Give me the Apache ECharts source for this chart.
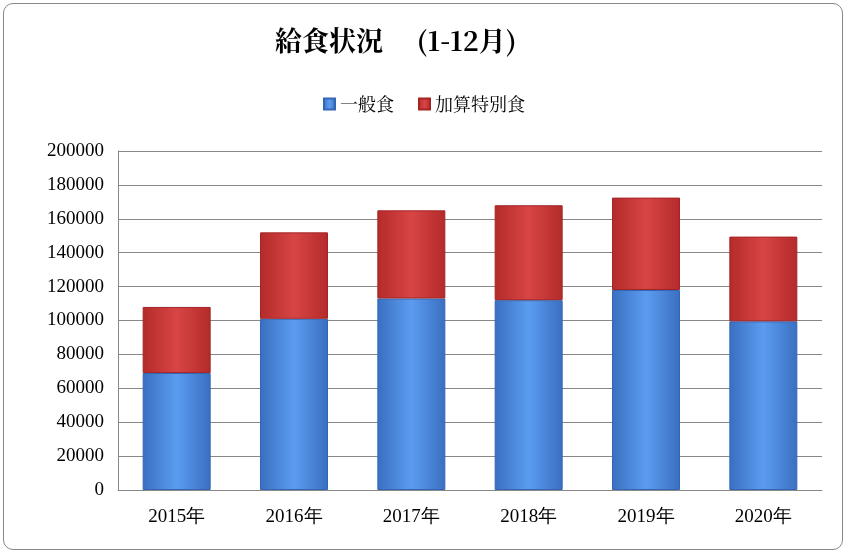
<!DOCTYPE html>
<html><head><meta charset="utf-8">
<script src="https://cdn.jsdelivr.net/npm/echarts@6/dist/echarts.min.js"></script>
<style>html,body{margin:0;padding:0;background:#fff}#c{width:848px;height:554px}
#f{position:absolute;left:3px;top:3px;width:838px;height:545px;border:1.5px solid #888;border-radius:10px;pointer-events:none}</style>
</head><body><div id="c"></div><div id="f"></div>
<script>
const categories = ['2015年','2016年','2017年','2018年','2019年','2020年'];
const general = [69000, 101000, 113000, 112000, 118000, 99500];
const special = [39000, 51000, 52000, 56000, 54500, 50000];
const F = '"Noto Serif CJK JP","Noto Sans CJK JP",serif';
function grad(a,b,c){return new echarts.graphic.LinearGradient(0,0,1,0,[{offset:0,color:a},{offset:0.5,color:b},{offset:1,color:c}]);}
const chart = echarts.init(document.getElementById('c'));
chart.setOption({
  animation:false,
  title:{text:'給食状況　 (1-12月)',left:270,top:22,textStyle:{fontFamily:F,fontSize:27,fontWeight:'bold',color:'#000'}},
  legend:{top:90,left:'center',itemWidth:11,itemHeight:11,icon:'rect',itemGap:24,
    textStyle:{fontFamily:F,fontSize:18,color:'#000'},data:['一般食','加算特別食']},
  grid:{left:118,right:26,top:151,bottom:64},
  xAxis:{type:'category',data:categories,axisTick:{show:false},
    axisLine:{lineStyle:{color:'#888'}},axisLabel:{fontFamily:'Liberation Serif',fontSize:19,color:'#000',margin:18}},
  yAxis:{type:'value',min:0,max:200000,interval:20000,
    axisLine:{show:true,lineStyle:{color:'#888'}},
    splitLine:{lineStyle:{color:'#888'}},
    axisLabel:{fontFamily:'Liberation Serif',fontSize:19,color:'#000',margin:14,formatter:v=>String(v)}},
  series:[
    {name:'一般食',type:'bar',stack:'a',data:general,barWidth:68,
     itemStyle:{color:grad('#3a6fc0','#5b9cf0','#3a6fc0'),borderColor:'#3566b5',borderWidth:1}},
    {name:'加算特別食',type:'bar',stack:'a',data:special,barWidth:68,
     itemStyle:{color:grad('#b42a2a','#d84545','#b42a2a'),borderColor:'#a52525',borderWidth:1}}
  ]
});
</script></body></html>
